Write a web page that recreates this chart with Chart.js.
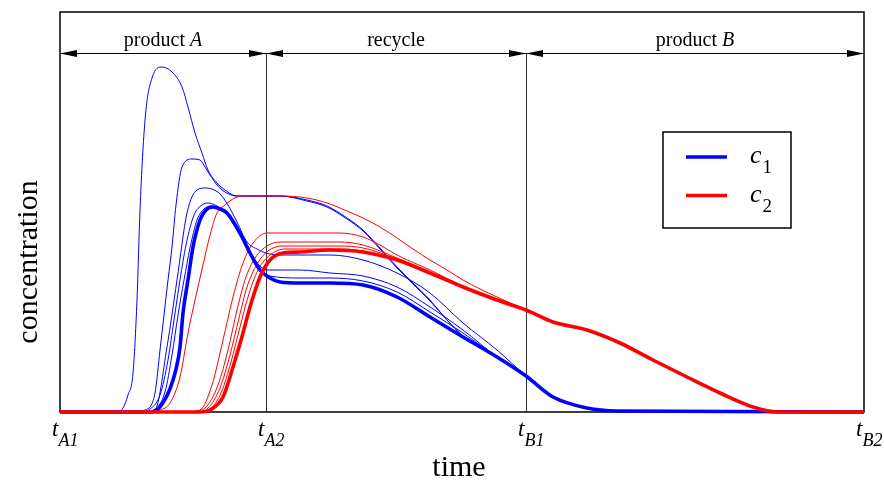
<!DOCTYPE html>
<html>
<head>
<meta charset="utf-8">
<script src="https://cdn.jsdelivr.net/npm/chart.js@4/dist/chart.umd.min.js"></script>
<style>
  html, body { margin: 0; padding: 0; background: #fff; }
  #wrap { width: 884px; height: 482px; position: relative; }
</style>
</head>
<body>
<div id="wrap"><canvas id="c" width="884" height="482"></canvas></div>
<script>
// ---- data (time, concentration), arbitrary units ----
const timeMin = 0, timeMax = 804, concMax = 400;
const tickTimes = [0, 206, 466, 804];
const tickSubs = ['A1', 'A2', 'B1', 'B2'];
const regionNames = ['product ', 'recycle', 'product '];
const regionItalic = ['A', '', 'B'];
const legendNames = ['c', 'c'];
const legendSubs = ['1', '2'];

// c1 (blue), final cycle (thick)
const c1Final = [[0,0],[90,0],[100,5],[113,32],[120,65],[123,99],[128,132],[133,165],[140,192],[146,202],[153,205],[160,203],[167,199],[180,179],[190,159],[200,142],[210,134],[220,130],[240,129],[270,129],[303,127],[337,115],[370,95],[403,75],[437,55],[466,36],[493,15],[527,4],[557,1],[804,0]];
// c2 (red), final cycle (thick)
const c2Final = [[0,0],[140,0],[150,2],[163,15],[173,45],[183,79],[190,105],[200,135],[210,152],[223,159],[240,160],[270,162],[303,160],[337,152],[370,139],[403,125],[437,112],[466,102],[493,90],[527,82],[560,69],[593,52],[627,35],[660,19],[693,5],[717,0],[804,0]];

// c1 earlier cycles (thin)
const c1Run1 = [[0,0],[55,0],[63,4],[68,17],[73,39],[77,112],[80,202],[85,292],[92,334],[102,345],[112,340],[122,325],[128,305],[135,279],[142,259],[148,242],[157,229],[165,222],[177,216],[220,216],[247,212],[267,206],[287,194],[303,182],[320,164],[337,145],[353,129],[370,112],[387,92],[403,76],[437,56],[466,36],[493,15]];
const c1Run2 = [[0,0],[75,0],[85,2],[95,19],[100,62],[104,97],[108,132],[112,165],[116,207],[122,245],[132,253],[140,252],[145,245],[150,237],[157,227],[165,220],[177,216],[220,216],[247,211],[267,205],[287,193],[303,181],[320,163],[337,144],[353,128],[370,111],[387,92],[403,76],[437,56],[466,36],[493,15]];
const c1Run3 = [[0,0],[85,0],[95,2],[107,65],[117,132],[127,199],[137,222],[145,224],[152,223],[160,218],[168,207],[177,190],[187,170],[197,163],[206,159],[220,157],[240,157],[270,157],[303,152],[337,139],[370,119],[403,89],[437,62],[466,36],[493,15]];
const c1Run4 = [[0,0],[80,0],[90,3],[100,17],[108,52],[114,92],[120,132],[126,167],[134,197],[142,207],[148,209],[155,207],[165,200],[178,180],[190,160],[200,146],[208,142],[240,142],[270,139],[303,136],[337,125],[370,105],[403,82],[437,55],[466,36],[493,15]];
const c1Run5 = [[0,0],[85,0],[95,3],[105,20],[112,57],[118,97],[124,132],[130,164],[137,192],[144,203],[151,206],[158,204],[166,199],[180,178],[190,159],[200,144],[210,136],[240,134],[270,134],[303,131],[337,120],[370,100],[403,79],[437,55],[466,36],[493,15]];

// c2 earlier cycles (thin)
const c2Run1 = [[0,0],[90,0],[100,2],[110,9],[120,35],[128,79],[135,112],[143,147],[150,177],[157,199],[165,207],[177,215],[190,216],[220,216],[247,214],[267,209],[287,201],[303,194],[320,185],[337,174],[353,163],[370,152],[387,142],[403,132],[420,123],[437,115],[466,102],[493,90]];
const c2Run2 = [[0,0],[125,0],[140,2],[152,27],[163,72],[173,115],[183,149],[193,169],[207,179],[240,179],[280,179],[303,175],[320,167],[337,157],[370,142],[403,126],[437,112],[466,102],[493,90]];
const c2Run3 = [[0,0],[130,0],[145,4],[158,27],[168,62],[177,102],[185,132],[195,154],[207,166],[220,170],[280,170],[303,167],[337,154],[370,140],[403,125],[437,112],[466,102],[493,90]];
const c2Run4 = [[0,0],[135,0],[148,4],[160,24],[170,57],[179,94],[187,125],[197,148],[208,161],[222,166],[280,166],[303,164],[337,153],[370,139],[403,125],[437,112],[466,102],[493,90]];
const c2Run5 = [[0,0],[138,0],[150,3],[161,19],[171,50],[180,85],[188,115],[198,142],[210,157],[225,163],[280,163],[303,161],[337,152],[370,139],[403,125],[437,112],[466,102],[493,90]];

const BLUE = '#0000ff', RED = '#ff0000';
const toPts = arr => arr.map(p => ({x: p[0], y: p[1]}));
function ds(arr, color, width, label) {
  return {
    label: label, data: toPts(arr), borderColor: color, backgroundColor: color,
    borderWidth: width, pointRadius: 0, fill: false, clip: 6,
    cubicInterpolationMode: 'monotone'
  };
}

const datasets = [
  ds(c2Final, RED, 3.6, 'c2'),
  ds(c1Final, BLUE, 3.6, 'c1'),
  ds(c2Run1, RED, 1, 'c2 run 1'),
  ds(c2Run2, RED, 1, 'c2 run 2'),
  ds(c2Run3, RED, 1, 'c2 run 3'),
  ds(c2Run4, RED, 1, 'c2 run 4'),
  ds(c2Run5, RED, 1, 'c2 run 5'),
  ds(c1Run1, BLUE, 1, 'c1 run 1'),
  ds(c1Run2, BLUE, 1, 'c1 run 2'),
  ds(c1Run3, BLUE, 1, 'c1 run 3'),
  ds(c1Run4, BLUE, 1, 'c1 run 4'),
  ds(c1Run5, BLUE, 1, 'c1 run 5')
];

const SERIF = '"Liberation Serif", "DejaVu Serif", serif';

function arrowHead(ctx, tipX, y, dir) {
  ctx.beginPath();
  ctx.moveTo(tipX, y);
  ctx.lineTo(tipX - dir * 17, y - 3.5);
  ctx.lineTo(tipX - dir * 17, y + 3.5);
  ctx.closePath();
  ctx.fill();
}

function mixedText(ctx, parts, cx, y) {
  let w = 0;
  parts.forEach(p => { ctx.font = p.f; w += ctx.measureText(p.t).width; });
  let x = cx - w / 2;
  parts.forEach(p => { ctx.font = p.f; ctx.fillText(p.t, x, y); x += ctx.measureText(p.t).width; });
}

const decor = {
  id: 'decor',
  beforeDatasetsDraw(chart) {
    const {ctx, chartArea: a, scales: {x}} = chart;
    ctx.save();
    ctx.strokeStyle = '#333';
    ctx.lineWidth = 1;
    [1, 2].forEach(i => {
      const px = Math.round(x.getPixelForValue(tickTimes[i])) + 0.5;
      ctx.beginPath(); ctx.moveTo(px, a.top + 41); ctx.lineTo(px, a.bottom); ctx.stroke();
    });
    ctx.strokeStyle = '#000';
    ctx.lineWidth = 1.5;
    ctx.strokeRect(a.left, a.top, a.right - a.left, a.bottom - a.top);
    ctx.restore();
  },
  afterDraw(chart) {
    const {ctx, chartArea: a, scales: {x}} = chart;
    ctx.save();
    ctx.fillStyle = '#000';
    ctx.strokeStyle = '#000';
    const ay = a.top + 41.5;
    ctx.lineWidth = 1;
    ctx.beginPath(); ctx.moveTo(a.left, ay); ctx.lineTo(a.right, ay); ctx.stroke();
    for (let i = 0; i < 3; i++) {
      const x0 = x.getPixelForValue(tickTimes[i]);
      const x1 = x.getPixelForValue(tickTimes[i + 1]);
      arrowHead(ctx, x0, ay, -1);
      arrowHead(ctx, x1, ay, 1);
      ctx.textBaseline = 'alphabetic';
      const parts = [{t: regionNames[i], f: '20px ' + SERIF}];
      if (regionItalic[i]) parts.push({t: regionItalic[i], f: 'italic 20px ' + SERIF});
      mixedText(ctx, parts, (x0 + x1) / 2, ay - 8);
    }
    // tick labels t_{..}
    ctx.textAlign = 'left';
    tickTimes.forEach((tv, i) => {
      const px = x.getPixelForValue(tv);
      ctx.font = 'italic 23px ' + SERIF;
      ctx.fillText('t', px - 8, a.bottom + 24);
      const w = ctx.measureText('t').width;
      ctx.font = 'italic 18px ' + SERIF;
      ctx.fillText(tickSubs[i], px - 8 + w, a.bottom + 34);
    });
    // axis titles
    ctx.font = '30px ' + SERIF;
    ctx.textAlign = 'center';
    ctx.fillText('time', (a.left + a.right) / 2 - 3, a.bottom + 64);
    ctx.save();
    ctx.translate(37, (a.top + a.bottom) / 2 + 50);
    ctx.rotate(-Math.PI / 2);
    ctx.fillText('concentration', 0, 0);
    ctx.restore();
    // legend
    const lx = a.left + 603, ly = a.top + 120;
    ctx.lineWidth = 1.5;
    ctx.strokeStyle = '#000';
    ctx.fillStyle = '#fff';
    ctx.fillRect(lx, ly, 128, 96);
    ctx.strokeRect(lx, ly, 128, 96);
    const colors = [BLUE, RED];
    ctx.textAlign = 'left';
    for (let i = 0; i < 2; i++) {
      const yy = ly + 25 + i * 38.5;
      ctx.strokeStyle = colors[i];
      ctx.lineWidth = 3.5;
      ctx.beginPath(); ctx.moveTo(lx + 23, yy); ctx.lineTo(lx + 64, yy); ctx.stroke();
      ctx.fillStyle = '#000';
      ctx.font = 'italic 26px ' + SERIF;
      ctx.fillText(legendNames[i], lx + 87, yy + 6);
      const w = ctx.measureText(legendNames[i]).width;
      ctx.font = '19px ' + SERIF;
      ctx.fillText(legendSubs[i], lx + 88 + w, yy + 16);
    }
    ctx.restore();
  }
};

new Chart(document.getElementById('c'), {
  type: 'line',
  data: { datasets: datasets },
  options: {
    responsive: false,
    animation: false,
    layout: { padding: { left: 60, right: 20, top: 12, bottom: 70 } },
    scales: {
      x: { type: 'linear', min: timeMin, max: timeMax, display: false },
      y: { type: 'linear', min: 0, max: concMax, display: false }
    },
    plugins: { legend: { display: false }, tooltip: { enabled: false } }
  },
  plugins: [decor]
});
</script>
</body>
</html>
